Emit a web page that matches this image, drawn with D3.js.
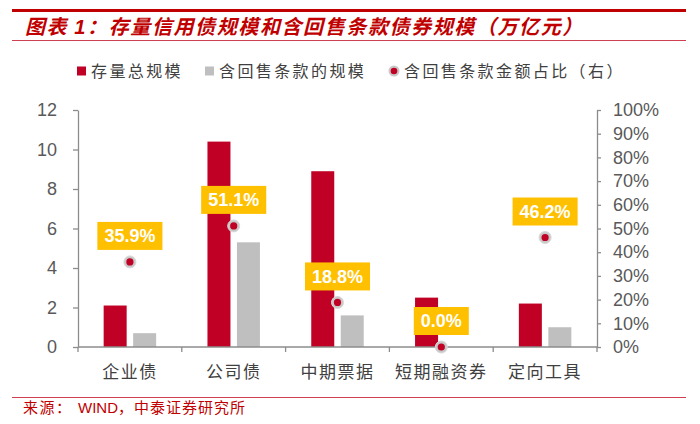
<!DOCTYPE html>
<html>
<head>
<meta charset="utf-8">
<script src="https://cdn.jsdelivr.net/npm/d3@7"></script>
<style>
  body { margin: 0; background: #fff; }
  svg { display: block; }
</style>
</head>
<body>
<div id="chart"></div>
<script>
const categories = ["企业债", "公司债", "中期票据", "短期融资券", "定向工具"];
const totalScale = [2.1, 10.4, 8.9, 2.5, 2.2];      // 存量总规模
const putableScale = [0.7, 5.3, 1.6, 0, 1.0];       // 含回售条款的规模
const putableRatio = [35.9, 51.1, 18.8, 0.0, 46.2]; // 含回售条款金额占比 (%)
const leftTicks = [0, 2, 4, 6, 8, 10, 12];
const rightTicks = [0, 10, 20, 30, 40, 50, 60, 70, 80, 90, 100];
const seriesNames = ["存量总规模", "含回售条款的规模", "含回售条款金额占比（右）"];

const W = 700, H = 424;
const red = "#C00024", gray = "#BFBFBF", yellow = "#FFC000", axisColor = "#8C8C8C";
const cjk = "'Noto Sans CJK SC', sans-serif";
const latin = "'Liberation Sans', Arial, sans-serif";
const plot = {left: 78, right: 597, top: 110, bottom: 347};

const svg = d3.select("#chart").append("svg")
    .attr("width", W).attr("height", H);

svg.append("rect").attr("width", W).attr("height", H).attr("fill", "#fff");

// header
svg.append("line").attr("x1", 12).attr("x2", 686).attr("y1", 10.5).attr("y2", 10.5)
    .attr("stroke", "#C00000").attr("stroke-width", 3);
const title = svg.append("text")
    .attr("x", 25).attr("y", 34)
    .attr("font-family", cjk).attr("font-size", 20).attr("font-weight", "bold")
    .attr("font-style", "italic").attr("letter-spacing", 1.6)
    .attr("fill", "#C00000");
title.append("tspan").text("图表 ");
title.append("tspan").attr("font-family", latin).text("1");
title.append("tspan").text("：存量信用债规模和含回售条款债券规模（万亿元）");
svg.append("line").attr("x1", 12).attr("x2", 686).attr("y1", 40.5).attr("y2", 40.5)
    .attr("stroke", "#D04050").attr("stroke-width", 1);

// scales
const x0 = d3.scaleBand().domain(categories).range([plot.left, plot.right]);
const x1 = d3.scaleBand().domain([0, 1]).range([0, x0.bandwidth()])
    .paddingInner(0.22).paddingOuter(0.87);
const yL = d3.scaleLinear().domain([0, 12]).range([plot.bottom, plot.top]);
const yR = d3.scaleLinear().domain([0, 100]).range([plot.bottom, plot.top]);

// bars
const rows = categories.map((c, i) => ({cat: c, vals: [totalScale[i], putableScale[i]]}));
svg.append("g").selectAll("g").data(rows).join("g")
    .attr("transform", d => `translate(${x0(d.cat)},0)`)
    .selectAll("rect").data(d => d.vals).join("rect")
    .attr("x", (d, i) => x1(i))
    .attr("width", x1.bandwidth())
    .attr("y", d => yL(d))
    .attr("height", d => plot.bottom - yL(d))
    .attr("fill", (d, i) => i === 0 ? red : gray);

// axes
function styleAxis(g) {
  g.select(".domain").attr("stroke", axisColor).attr("stroke-width", 1.3);
  g.selectAll(".tick line").attr("stroke", axisColor).attr("stroke-width", 1.3);
  g.selectAll("text").attr("fill", "#595959");
}

svg.append("g").attr("transform", `translate(${plot.left},0)`)
    .call(d3.axisLeft(yL).tickValues(leftTicks).tickSizeInner(5).tickSizeOuter(0).tickPadding(16))
    .attr("font-family", latin).attr("font-size", 18)
    .call(styleAxis);

svg.append("g").attr("transform", `translate(${plot.right},0)`)
    .call(d3.axisRight(yR).tickValues(rightTicks).tickFormat(d => d + "%")
        .tickSizeInner(4).tickSizeOuter(0).tickPadding(12))
    .attr("font-family", latin).attr("font-size", 18)
    .call(styleAxis);

// x axis with ticks on category boundaries
const xAxis = svg.append("g").attr("transform", `translate(0,${plot.bottom})`);
xAxis.append("line").attr("x1", plot.left).attr("x2", plot.right)
    .attr("stroke", axisColor).attr("stroke-width", 1.3);
const bounds = categories.map(c => x0(c)).concat([x0(categories[categories.length - 1]) + x0.bandwidth()]);
xAxis.selectAll(".bt").data(bounds).join("line")
    .attr("x1", d => d).attr("x2", d => d).attr("y1", 0).attr("y2", 5)
    .attr("stroke", axisColor).attr("stroke-width", 1.3);
xAxis.selectAll("text").data(categories).join("text")
    .attr("x", d => x0(d) + x0.bandwidth() / 2)
    .attr("y", 31)
    .attr("text-anchor", "middle")
    .attr("font-family", cjk).attr("font-size", 17).attr("letter-spacing", 1.5)
    .attr("fill", "#404040")
    .text(d => d);

// ratio dots with labels
const pts = categories.map((c, i) => ({cat: c, v: putableRatio[i]}));
const dots = svg.append("g").selectAll("g").data(pts).join("g")
    .attr("transform", d => `translate(${x0(d.cat) + x0.bandwidth() / 2},${yR(d.v)})`);
dots.append("circle").attr("r", 6).attr("fill", "#C8C8C8").attr("stroke", "#D8D8D8").attr("stroke-width", 1);
dots.append("circle").attr("r", 3.6).attr("fill", red);

const labels = dots.append("g").attr("transform", "translate(0,-26)");
labels.append("rect").attr("fill", yellow);
const ltext = labels.append("text")
    .attr("text-anchor", "middle").attr("dy", "0.36em")
    .attr("font-family", latin).attr("font-size", 18).attr("font-weight", "bold")
    .attr("fill", "#fff")
    .text(d => d.v.toFixed(1) + "%");
ltext.each(function () {
  const w = this.getComputedTextLength() + 14;
  d3.select(this.previousSibling)
      .attr("x", -w / 2).attr("width", w).attr("y", -14).attr("height", 28);
});

// legend
const legend = svg.append("g").attr("font-family", cjk).attr("font-size", 16)
    .attr("letter-spacing", 2.4).attr("fill", "#404040");
const legendX = [77, 205, 389];
legend.append("rect").attr("x", legendX[0]).attr("y", 66.5).attr("width", 9).attr("height", 9).attr("fill", red);
legend.append("rect").attr("x", legendX[1]).attr("y", 66.5).attr("width", 9).attr("height", 9).attr("fill", gray);
legend.append("circle").attr("cx", legendX[2] + 5).attr("cy", 71).attr("r", 5.5).attr("fill", "#C8C8C8");
legend.append("circle").attr("cx", legendX[2] + 5).attr("cy", 71).attr("r", 3.3).attr("fill", red);
legend.selectAll("text").data(seriesNames).join("text")
    .attr("x", (d, i) => legendX[i] + (i === 2 ? 15 : 14))
    .attr("y", 77)
    .text(d => d);

// footer
svg.append("line").attr("x1", 12).attr("x2", 686).attr("y1", 397.5).attr("y2", 397.5)
    .attr("stroke", "#D04050").attr("stroke-width", 1);
const src = svg.append("text").attr("x", 23).attr("y", 413)
    .attr("font-size", 15).attr("fill", "#C00000");
src.append("tspan").attr("font-family", cjk).attr("letter-spacing", 1.5).text("来源：");
src.append("tspan").attr("x", 78).attr("font-family", latin).text("WIND");
src.append("tspan").attr("font-family", cjk).attr("letter-spacing", 1).text("，中泰证券研究所");
</script>
</body>
</html>
